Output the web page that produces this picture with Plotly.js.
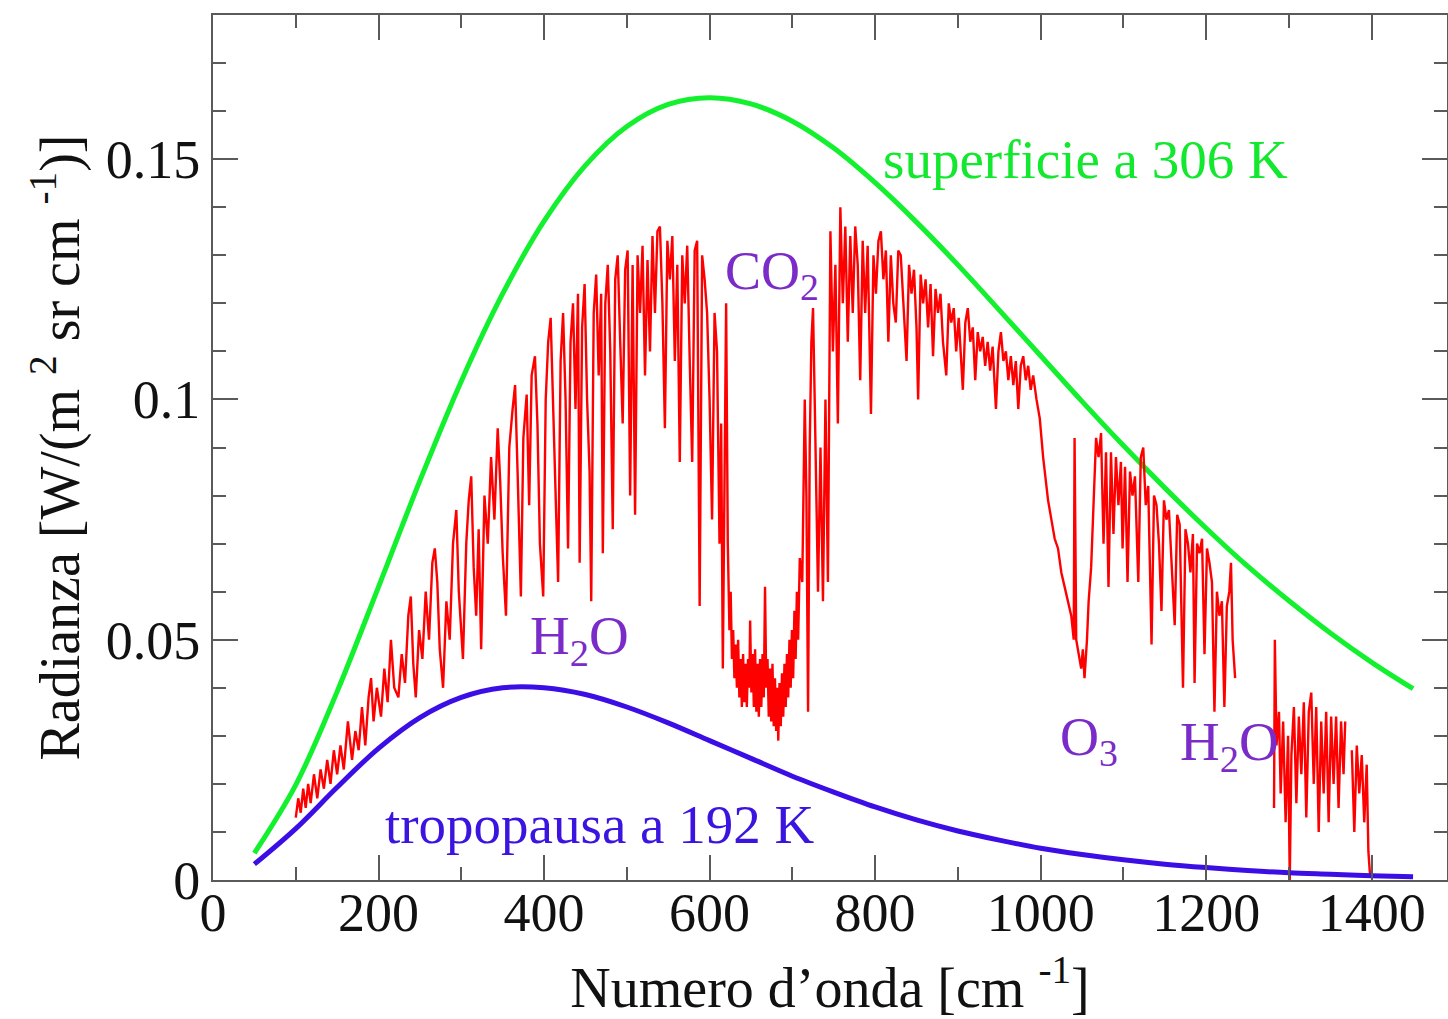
<!DOCTYPE html>
<html>
<head>
<meta charset="utf-8">
<script src="https://cdn.plot.ly/plotly-3.0.1.min.js"></script>
<style>html,body{margin:0;padding:0;background:#fff;overflow:hidden}</style>
</head>
<body>
<div id="chart" style="width:1448px;height:1019px"></div>
<script>
// Blackbody curves (cm-1, W/(m2 sr cm-1))
const planckWavenumber = [50,100,150,200,250,300,350,400,450,500,550,600,650,700,750,800,850,900,950,1000,1050,1100,1150,1200,1250,1300,1350,1400,1450];
const surface306K = [0.0056,0.0198,0.0392,0.0610,0.0831,0.1038,0.1220,0.1371,0.1487,0.1568,0.1614,0.1628,0.1615,0.1579,0.1523,0.1451,0.1369,0.1280,0.1186,0.1091,0.0996,0.0904,0.0816,0.0732,0.0653,0.0581,0.0514,0.0453,0.0398];
const tropopause192K = [0.0033,0.0107,0.0193,0.0274,0.0338,0.0380,0.0400,0.0400,0.0386,0.0360,0.0327,0.0290,0.0253,0.0216,0.0183,0.0152,0.0125,0.0102,0.0083,0.0066,0.0053,0.0042,0.0033,0.0026,0.0020,0.0015,0.0012,0.0009,0.0007];

const redWavenumber = [100,103,106,109,112,115,118,122,126,130,134,138,142,146,150,154,158,163,168,172,176,180,184,188,191,194,198,203,207,211,215,219,224,228,232,236,239,242,245,249,253,257,261,265,268,271,274,278,282,286,290,294,297,300,302,306,309,312,315,318,321,324,328,332,336,340,344,347,350,354,358,362,365,368,372,375,379,382,385,389,392,395,399,402,405,408,411,414,417,420,423,426,429,432,435,438,441,443,446,449,452,455,457,460,463,466,469,471,474,477,480,483,486,489,492,495,498,501,504,507,510,513,516,519,522,525,528,531,534,537,540,543,546,549,552,555,558,561,564,567,570,573,576,579,582,585,588,591,594,597,600,603,606,609,612,614,616,618,620,622,624,625.5,627,628.5,630,631.5,633,634.5,636,637.5,639,640.5,642,643.5,645,646.5,648,649,650.5,652,653.5,655,656.5,658,659.5,661,662.5,664,665.5,667,668.5,670,671.5,673,674.5,676,677.5,679,680.5,682,683,684.5,686,687.5,689,690.5,692,693.5,695,696.5,698,699.5,701,702.5,704,705.5,707,709,712,715,717,719,721,723,725,727,729,731,734,737,740,743,746,749,752,755,758,761,764,767,770,773,776,779,782,785,788,791,795,798,801,804,807,810,813,816,819,822,825,828,831,834,838,841,844,847,850,852,855,858,861,864,867,870,873,876,879,882,886,889,892,895,898,901,904,906,909,912,915,918,921,924,927,930,933,936,939,942,946,949,952,955,958,961,964,967,970,973,976,979,982,985,988,991,995,999,1003,1006,1009,1013,1017,1021,1025,1029,1033,1037,1040,1041,1043,1046,1049,1051,1053,1056,1058,1061,1064,1067,1070,1073,1076,1079,1082,1085,1088,1091,1094,1097,1099,1102,1105,1108,1111,1114,1118,1121,1124,1127,1130,1134,1137,1140,1143,1146,1149,1152,1155,1158,1162,1165,1168,1172,1175,1178,1181,1184,1186,1189,1192,1195,1198,1201,1204,1207,1210,1213,1216,1219,1222,1225,1228,1230,1232,1235,1260,1282,1283,1285,1288,1290,1293,1296,1299,1301,1303,1306,1309,1312,1315,1318,1321,1324,1327,1330,1333,1336,1339,1342,1345,1348,1351,1354,1357,1360,1363,1366,1368,1372,1376,1379,1382,1385,1388,1391,1394,1396,1398];
const redRadiance = [0.013,0.017,0.014,0.019,0.015,0.020,0.016,0.022,0.017,0.023,0.019,0.025,0.020,0.027,0.022,0.028,0.023,0.033,0.025,0.031,0.027,0.036,0.028,0.038,0.042,0.033,0.040,0.034,0.044,0.037,0.050,0.040,0.038,0.047,0.041,0.055,0.059,0.045,0.038,0.052,0.046,0.060,0.050,0.066,0.069,0.062,0.048,0.040,0.058,0.050,0.070,0.077,0.060,0.052,0.046,0.070,0.079,0.084,0.065,0.055,0.073,0.048,0.080,0.070,0.088,0.075,0.094,0.083,0.068,0.055,0.090,0.098,0.103,0.085,0.059,0.092,0.101,0.078,0.105,0.109,0.095,0.070,0.059,0.100,0.112,0.117,0.096,0.080,0.062,0.108,0.118,0.100,0.069,0.112,0.120,0.098,0.122,0.066,0.115,0.124,0.100,0.085,0.058,0.118,0.126,0.105,0.122,0.068,0.120,0.128,0.110,0.073,0.125,0.130,0.112,0.095,0.127,0.131,0.080,0.128,0.076,0.130,0.118,0.132,0.105,0.129,0.110,0.134,0.118,0.135,0.136,0.120,0.094,0.133,0.125,0.134,0.108,0.128,0.087,0.130,0.120,0.132,0.108,0.087,0.131,0.133,0.057,0.130,0.125,0.118,0.100,0.075,0.118,0.110,0.070,0.095,0.044,0.085,0.120,0.070,0.052,0.060,0.046,0.052,0.042,0.049,0.040,0.050,0.038,0.046,0.036,0.047,0.037,0.045,0.036,0.046,0.040,0.054,0.039,0.047,0.036,0.048,0.035,0.045,0.034,0.046,0.036,0.047,0.038,0.061,0.040,0.046,0.034,0.044,0.033,0.045,0.032,0.042,0.031,0.040,0.029,0.041,0.032,0.043,0.034,0.045,0.036,0.047,0.038,0.050,0.040,0.052,0.042,0.056,0.046,0.060,0.050,0.067,0.062,0.100,0.080,0.035,0.090,0.112,0.119,0.100,0.075,0.060,0.090,0.058,0.100,0.062,0.135,0.110,0.128,0.095,0.140,0.120,0.136,0.112,0.134,0.118,0.136,0.128,0.104,0.133,0.118,0.132,0.097,0.130,0.122,0.133,0.135,0.125,0.131,0.112,0.130,0.120,0.116,0.131,0.130,0.120,0.108,0.128,0.122,0.127,0.115,0.100,0.126,0.120,0.125,0.115,0.124,0.109,0.123,0.118,0.122,0.112,0.105,0.120,0.116,0.119,0.110,0.117,0.108,0.102,0.116,0.119,0.112,0.115,0.104,0.114,0.110,0.113,0.107,0.112,0.106,0.111,0.098,0.110,0.114,0.108,0.110,0.104,0.109,0.103,0.108,0.098,0.107,0.109,0.104,0.107,0.102,0.105,0.100,0.096,0.088,0.083,0.079,0.075,0.071,0.069,0.064,0.061,0.058,0.055,0.050,0.092,0.050,0.047,0.044,0.048,0.042,0.050,0.058,0.065,0.080,0.092,0.088,0.093,0.070,0.089,0.061,0.089,0.072,0.088,0.078,0.087,0.069,0.086,0.062,0.085,0.080,0.084,0.062,0.088,0.090,0.078,0.082,0.049,0.080,0.078,0.070,0.056,0.079,0.075,0.077,0.066,0.053,0.076,0.074,0.040,0.073,0.070,0.064,0.072,0.041,0.070,0.068,0.071,0.047,0.069,0.066,0.062,0.035,0.060,0.055,0.058,0.036,0.057,0.060,0.066,0.050,0.042,null,0.015,0.050,0.028,0.035,0.018,0.033,0.012,0.030,0.000,0.026,0.036,0.016,0.034,0.022,0.037,0.013,0.035,0.039,0.020,0.036,0.010,0.033,0.018,0.035,0.012,0.034,0.020,0.034,0.015,0.033,0.022,0.033,null,0.027,0.010,0.028,0.018,0.026,0.012,0.024,0.006,0.001];

const serif = '"Liberation Serif", "DejaVu Serif", serif';
const axisGray = '#5a5a5a';

const traces = [
  {x: planckWavenumber, y: surface306K, type: 'scatter', mode: 'lines',
   line: {color: '#12f02e', width: 5, shape: 'spline'}, hoverinfo: 'skip'},
  {x: redWavenumber, y: redRadiance, type: 'scatter', mode: 'lines', connectgaps: false,
   line: {color: '#ff0000', width: 2.4}, hoverinfo: 'skip'},
  {x: planckWavenumber, y: tropopause192K, type: 'scatter', mode: 'lines',
   line: {color: '#3c0ee6', width: 5, shape: 'spline'}, hoverinfo: 'skip'}
];

const purple = '#7a2bc8';
const layout = {
  width: 1448, height: 1019,
  margin: {l: 213, r: 1, t: 15, b: 139},
  paper_bgcolor: '#ffffff', plot_bgcolor: '#ffffff',
  showlegend: false,
  font: {family: serif, color: '#111111'},
  xaxis: {
    range: [0, 1491], dtick: 200, tick0: 0,
    showgrid: false, zeroline: false,
    showline: true, linecolor: axisGray, linewidth: 2, mirror: 'allticks',
    ticks: 'inside', ticklen: 25, tickwidth: 2, tickcolor: axisGray,
    minor: {dtick: 100, ticks: 'inside', ticklen: 13, tickwidth: 2, tickcolor: axisGray},
    tickfont: {family: serif, size: 54, color: '#111111'},
    ticklabelstandoff: -16,
    title: {text: 'Numero d’onda [cm <sup>-1</sup>]', font: {family: serif, size: 56, color: '#111111'}, standoff: 30}
  },
  yaxis: {
    range: [0, 0.18], dtick: 0.05, tick0: 0,
    showgrid: false, zeroline: false,
    showline: true, linecolor: axisGray, linewidth: 2, mirror: 'allticks',
    ticks: 'inside', ticklen: 25, tickwidth: 2, tickcolor: axisGray,
    minor: {dtick: 0.01, ticks: 'inside', ticklen: 13, tickwidth: 2, tickcolor: axisGray},
    tickfont: {family: serif, size: 54, color: '#111111'},
    ticklabelstandoff: 0,
    title: {text: 'Radianza [W/(m <sup>2</sup> sr cm <sup>-1</sup>)]', font: {family: serif, size: 56, color: '#111111'}, standoff: 8}
  },
  annotations: [
    {x: 807, y: 0.150, xref: 'x', yref: 'y', xanchor: 'left', yanchor: 'middle', showarrow: false,
     text: 'superficie a 306 K', font: {family: serif, size: 55, color: '#12e82e'}},
    {x: 205, y: 0.0115, xref: 'x', yref: 'y', xanchor: 'left', yanchor: 'middle', showarrow: false,
     text: 'tropopausa a 192 K', font: {family: serif, size: 55, color: '#3c14e0'}},
    {x: 616, y: 0.126, xref: 'x', yref: 'y', xanchor: 'left', yanchor: 'middle', showarrow: false,
     text: 'CO<sub>2</sub>', font: {family: serif, size: 54, color: purple}},
    {x: 381, y: 0.050, xref: 'x', yref: 'y', xanchor: 'left', yanchor: 'middle', showarrow: false,
     text: 'H<sub>2</sub>O', font: {family: serif, size: 55, color: purple}},
    {x: 1021, y: 0.029, xref: 'x', yref: 'y', xanchor: 'left', yanchor: 'middle', showarrow: false,
     text: 'O<sub>3</sub>', font: {family: serif, size: 54, color: purple}},
    {x: 1166, y: 0.028, xref: 'x', yref: 'y', xanchor: 'left', yanchor: 'middle', showarrow: false,
     text: 'H<sub>2</sub>O', font: {family: serif, size: 55, color: purple}}
  ]
};

Plotly.newPlot('chart', traces, layout, {displayModeBar: false, staticPlot: true});
</script>
</body>
</html>
